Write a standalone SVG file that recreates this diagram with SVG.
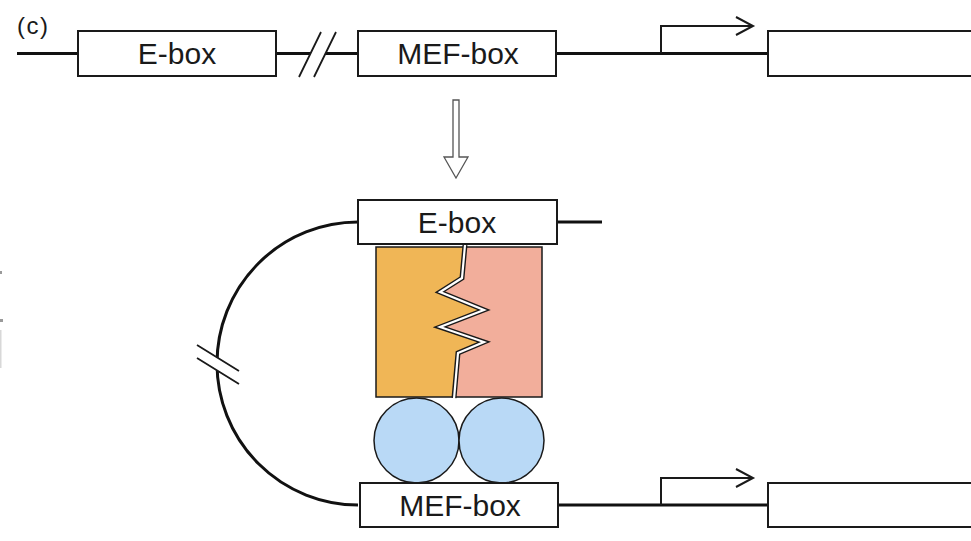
<svg xmlns="http://www.w3.org/2000/svg" width="971" height="541" viewBox="0 0 971 541">
<style>
.box{fill:#fff;stroke:#1a1a1a;stroke-width:2}
.dna{fill:none;stroke:#111;stroke-width:3}
.thin{fill:none;stroke:#1a1a1a;stroke-width:2}
.slash{fill:none;stroke:#1a1a1a;stroke-width:1.8}
.lbl{font-family:"Liberation Sans",Arial,sans-serif;font-size:30px;fill:#1a1a1a;text-anchor:middle}
.blob{stroke:#1a1a1a;stroke-width:1.5}
</style>
<rect width="971" height="541" fill="#fff"/>
<text x="17" y="34" font-family="Liberation Sans, Arial, sans-serif" font-size="24" letter-spacing="1.5" fill="#1a1a1a">(c)</text>
<g id="edge-marks" fill="#9a9a9a">
<rect x="0" y="271" width="2" height="3"/>
<rect x="0" y="319" width="3" height="3"/>
<rect x="0" y="330" width="1.5" height="38" fill="#d8d8d8"/>
</g>
<g id="connectors">
<path class="dna" d="M17,53.5 H358"/>
<polygon points="299,77 321,32 336,32 314,77" fill="#fff"/>
<path class="slash" d="M299,77 L321,32 M314,77 L336,32"/>
<path class="dna" d="M556,53.5 H768"/>
<path class="thin" d="M661,53 V26 H753 M736,17 L753,26 L736,35"/>
<polygon points="453,100 459,100 459,157 468,157 456,178 444,157 453,157" fill="#fff" stroke="#555" stroke-width="1.3"/>
<path class="dna" d="M557,222 H602"/>
<path class="dna" d="M358,222 A141,141.5 0 0 0 358,505"/>
<polygon points="197,345 239,371 239,384 197,358" fill="#fff"/>
<path class="slash" d="M197,345 L239,371 M197,358 L239,384"/>
<path class="dna" d="M558,505 H768"/>
<path class="thin" d="M661,505 V478 H753 M736,469 L753,478 L736,487"/>
</g>
<g id="top-ebox">
<rect class="box" x="78" y="31" width="198" height="45"/>
<text class="lbl" x="177" y="64">E-box</text>
</g>
<g id="top-mefbox">
<rect class="box" x="358" y="31" width="198" height="45"/>
<text class="lbl" x="458" y="64">MEF-box</text>
</g>
<g id="gene-top">
<path class="thin" d="M971,31 H768 V76 H971"/>
</g>
<g id="proteins">
<rect x="376" y="247" width="166" height="150" fill="#F0B656"/>
<polygon points="465,247 542,247 542,397 454,397 458,353 484,342 440,327 484,310 440,292 462,278" fill="#F2AE9B"/>
<rect x="376" y="247" width="166" height="150" fill="none" stroke="#1a1a1a" stroke-width="1.5"/>
<path d="M465,245 L462,278 L440,292 L484,310 L440,327 L484,342 L458,353 L454,398" fill="none" stroke="#1a1a1a" stroke-width="5"/>
<path d="M465,245 L462,278 L440,292 L484,310 L440,327 L484,342 L458,353 L454,399" fill="none" stroke="#fff" stroke-width="2.2"/>
<circle class="blob" cx="416.5" cy="440.5" r="42.5" fill="#B9D9F6"/>
<circle class="blob" cx="501.5" cy="440.5" r="42.5" fill="#B9D9F6"/>
</g>
<g id="mid-ebox">
<rect class="box" x="358" y="200" width="199" height="44"/>
<text class="lbl" x="457" y="233">E-box</text>
</g>
<g id="bottom-mefbox">
<rect class="box" x="360" y="483" width="198" height="44"/>
<text class="lbl" x="460" y="516">MEF-box</text>
</g>
<g id="gene-bottom">
<path class="thin" d="M971,483 H768 V527 H971"/>
</g>
</svg>
